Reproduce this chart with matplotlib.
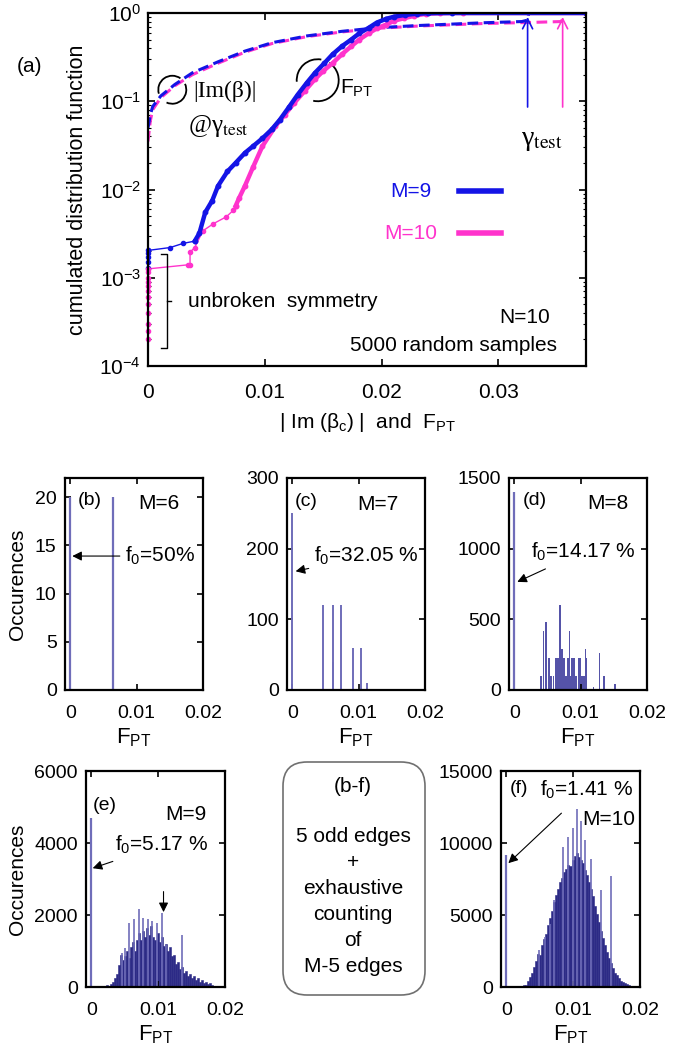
import matplotlib
matplotlib.use('Agg')
import matplotlib.pyplot as plt
from matplotlib.patches import Arc, FancyBboxPatch
import numpy as np

plt.rcParams['font.family'] = ['Liberation Sans', 'DejaVu Sans']
plt.rcParams['mathtext.fontset'] = 'custom'
plt.rcParams['mathtext.rm'] = 'Liberation Sans'
plt.rcParams['mathtext.it'] = 'Liberation Sans:italic'
plt.rcParams['mathtext.bf'] = 'Liberation Sans:bold'
plt.rcParams['font.size'] = 15

BLUE = '#1414e6'
PINK = '#ff33cc'
NAVY = '#2c2a86'
LIGHT = '#6f6db9'

# ---------------- (a) cumulated distribution functions ----------------
# F_PT, M=9 (solid)
m9_low_x = [0.0, 0.0019, 0.0030, 0.0040]
m9_low_y = [0.00204, 0.0022, 0.00245, 0.0026]
m9_x = [0.0040, 0.0044, 0.0049, 0.0055, 0.0060, 0.0068, 0.0075, 0.0083, 0.0090, 0.0098,
        0.0106, 0.0113, 0.0121, 0.0128, 0.0136, 0.0143, 0.0151, 0.0158, 0.0166, 0.0174,
        0.0181, 0.0189, 0.0196, 0.0204, 0.0211, 0.0220, 0.0230, 0.0240, 0.0260, 0.0375]
m9_y = [0.0026, 0.0032, 0.0055, 0.0075, 0.011, 0.016, 0.020, 0.026, 0.031, 0.038,
        0.048, 0.062, 0.087, 0.118, 0.162, 0.21, 0.27, 0.34, 0.42, 0.50,
        0.59, 0.68, 0.78, 0.86, 0.91, 0.95, 0.98, 0.995, 1.0, 1.0]
m9_zero_y = [0.0013, 0.0015, 0.0017, 0.0019, 0.00204]

# F_PT, M=10 (solid)
m10_low_x = [0.0, 0.0034, 0.0036, 0.0036, 0.0040, 0.0047, 0.0056, 0.0067, 0.0073, 0.0075]
m10_low_y = [0.00126, 0.0014, 0.0014, 0.00195, 0.0022, 0.0034, 0.0041, 0.0049, 0.0058, 0.0065]
m10_x = [0.0075, 0.0078, 0.0083, 0.0090, 0.0098, 0.0109, 0.0117, 0.0125, 0.0134, 0.0143,
         0.0150, 0.0158, 0.0166, 0.0174, 0.0181, 0.0189, 0.0196, 0.0204, 0.0211, 0.0219,
         0.0228, 0.0238, 0.0250, 0.0270, 0.0375]
m10_y = [0.0065, 0.008, 0.011, 0.018, 0.031, 0.052, 0.070, 0.095, 0.13, 0.178,
         0.22, 0.27, 0.34, 0.42, 0.50, 0.59, 0.67, 0.74, 0.82, 0.87,
         0.93, 0.98, 0.995, 1.0, 1.0]
m10_zero_y = [0.0002, 0.00025, 0.0003, 0.0004, 0.0005, 0.0006, 0.0007, 0.0008,
              0.0009, 0.001, 0.00115, 0.00126]

# |Im(beta)| at gamma_test (dashed)
m9_im_x = [0.0, 0.0002, 0.0004, 0.0011, 0.0023, 0.0038, 0.0060, 0.0083, 0.0106, 0.0136,
           0.0166, 0.0196, 0.0230, 0.0287, 0.0320, 0.0325, 0.0326, 0.0375]
m9_im_y = [0.05, 0.07, 0.087, 0.115, 0.155, 0.21, 0.28, 0.37, 0.46, 0.55,
           0.62, 0.68, 0.72, 0.775, 0.80, 0.83, 1.0, 1.0]
m10_im_x = [0.0, 0.0002, 0.0004, 0.0011, 0.0023, 0.0038, 0.0060, 0.0083, 0.0106, 0.0136,
            0.0166, 0.0196, 0.0230, 0.0287, 0.0325, 0.0354, 0.0356, 0.0375]
m10_im_y = [0.035, 0.06, 0.08, 0.11, 0.15, 0.20, 0.27, 0.36, 0.45, 0.54,
            0.61, 0.67, 0.71, 0.76, 0.78, 0.80, 1.0, 1.0]
gamma_test = [0.0325, 0.0355]

# ---------------- (b)-(f) histograms ----------------
b_x = [0.0, 0.0065]
b_counts = [20, 20]

c_x = [0.0, 0.0047, 0.0061, 0.0062, 0.0073, 0.0092, 0.0103, 0.0112]
c_counts = [250, 120, 120, 40, 120, 60, 60, 10]

d_x = [0.0040, 0.0044, 0.0048, 0.0052, 0.0055, 0.0059, 0.0063, 0.0065, 0.0067, 0.0069,
       0.0072, 0.0075, 0.0078, 0.0081, 0.0083, 0.0085, 0.0087, 0.0090, 0.0092, 0.0094,
       0.0097, 0.0099, 0.0101, 0.0103, 0.0105, 0.0107, 0.0109, 0.0119, 0.0128, 0.0135, 0.0152]
d_counts = [100, 420, 480, 227, 100, 100, 227, 227, 227, 600,
            290, 227, 100, 227, 420, 100, 227, 227, 100, 100,
            227, 227, 100, 100, 100, 290, 227, 20, 265, 100, 40]
d_zero = 1400

e_x = [0.0018, 0.0024, 0.0030, 0.0033, 0.0036, 0.0039, 0.0042, 0.0045, 0.0048, 0.0051,
       0.0054, 0.0057, 0.0060, 0.0063, 0.0066, 0.0069, 0.0072, 0.0075, 0.0078, 0.0081,
       0.0084, 0.0087, 0.0090, 0.0093, 0.0096, 0.0099, 0.0102, 0.0105, 0.0108, 0.0111,
       0.0114, 0.0117, 0.0120, 0.0123, 0.0126, 0.0129, 0.0132, 0.0135, 0.0138, 0.0141,
       0.0144, 0.0147, 0.0150, 0.0153, 0.0156, 0.0159, 0.0162, 0.0165, 0.0168, 0.0171,
       0.0174, 0.0177, 0.0180]
e_counts = [40, 60, 80, 150, 250, 350, 600, 900, 750, 850,
            1000, 800, 1100, 1250, 1000, 1300, 1500, 1300, 1550, 1400,
            1650, 1450, 1700, 1400, 1300, 1500, 1250, 1400, 1150, 1200,
            1000, 1100, 850, 900, 650, 700, 500, 550, 400, 450,
            300, 350, 250, 300, 200, 250, 150, 200, 100, 150,
            80, 100, 50]
e_spike_x = [0.00465, 0.0051, 0.0056, 0.0064, 0.0071, 0.0077, 0.0085, 0.0091, 0.0098, 0.0106, 0.0111, 0.0135]
e_spike_counts = [940, 1080, 1780, 1880, 2160, 1925, 1900, 1830, 1780, 2050, 1170, 1450]
e_zero = 4700
e_mark = 0.0108

f_x = [0.0006, 0.0009, 0.0012, 0.0015, 0.0018, 0.0021, 0.0024, 0.0027,
       0.0030, 0.0033, 0.0036, 0.0039, 0.0042, 0.0045, 0.0048, 0.0051, 0.0054, 0.0057,
       0.0060, 0.0063, 0.0066, 0.0069, 0.0072, 0.0075, 0.0078, 0.0081, 0.0084, 0.0087,
       0.0090, 0.0093, 0.0096, 0.0099, 0.0102, 0.0105, 0.0108, 0.0111, 0.0114, 0.0117,
       0.0120, 0.0123, 0.0126, 0.0129, 0.0132, 0.0135, 0.0138, 0.0141, 0.0144, 0.0147,
       0.0150, 0.0153, 0.0156, 0.0159, 0.0162, 0.0165, 0.0168, 0.0171, 0.0174, 0.0177,
       0.0180, 0.0183, 0.0186, 0.0189, 0.0192]
f_counts = [80, 60, 80, 60, 80, 60, 100, 120,
            150, 400, 700, 1000, 1400, 1800, 2300, 2200, 2900, 3300,
            3700, 4300, 4800, 5300, 5900, 6400, 6800, 7300, 7600, 8000,
            8200, 8500, 8400, 8800, 9100, 9300, 9000, 8800, 8600, 8100,
            7800, 7300, 6800, 6300, 5600, 5100, 4500, 3900, 3400, 2900,
            2400, 2000, 1700, 1300, 1000, 800, 600, 450, 350, 250,
            200, 150, 100, 80, 50]
f_spike_x = [0.0049, 0.0058, 0.0066, 0.0072, 0.0085, 0.0092, 0.0099, 0.0105, 0.0111, 0.0117, 0.0127, 0.0142, 0.0156]
f_spike_counts = [2550, 3500, 4400, 6050, 9700, 10450, 11050, 12370, 11500, 10200, 8900, 6750, 7700]
f_zero = 9200

W, H = 687, 1048
fig = plt.figure(figsize=(W / 100, H / 100), dpi=100)


def box(x0, y0, x1, y1):
    # pixel box (top-left origin) -> figure fraction
    return [x0 / W, 1 - y1 / H, (x1 - x0) / W, (y1 - y0) / H]


# ---------------- top panel ----------------
ax = fig.add_axes(box(148, 13, 586, 366))
ax.set_yscale('log')
ax.set_xlim(0, 0.0375)
ax.set_ylim(1e-4, 1)

ax.plot(m10_im_x, m10_im_y, color=PINK, lw=2.2, ls=(0, (3.5, 1.8)))
ax.plot(m9_im_x, m9_im_y, color=BLUE, lw=2.2, ls=(0, (3.5, 1.8)))

ax.plot(m9_low_x, m9_low_y, color=BLUE, lw=1, marker='o', ms=3)
ax.plot(m10_low_x, m10_low_y, color=PINK, lw=1, marker='o', ms=3)
ax.plot(m10_x, m10_y, color=PINK, lw=3.2, marker='o', ms=3.2)
ax.plot(m9_x, m9_y, color=BLUE, lw=3.2, marker='o', ms=3.2)
ax.plot(np.zeros(len(m9_zero_y)), m9_zero_y, 'o', color=BLUE, ms=3, clip_on=False)
ax.plot(np.zeros(len(m10_zero_y)), m10_zero_y, 'o', color=PINK, ms=3, clip_on=False)

for g, c in zip(gamma_test, [BLUE, PINK]):
    ax.annotate('', xy=(g, 0.97), xytext=(g, 0.08),
                arrowprops=dict(arrowstyle='->', color=c, lw=1.2, mutation_scale=18))

ax.set_xticks([0, 0.01, 0.02, 0.03])
ax.set_xticklabels(['0', '0.01', '0.02', '0.03'])
ax.set_yticks([1e-4, 1e-3, 1e-2, 1e-1, 1])
ax.set_yticklabels(['$10^{-4}$', '$10^{-3}$', '$10^{-2}$', '$10^{-1}$', '$10^{0}$'])
ax.tick_params(which='both', direction='in', top=True, right=True, labelsize=15)
ax.tick_params(which='major', length=5, width=1.2)
ax.tick_params(which='minor', length=2.5, width=0.8)
ax.tick_params(axis='x', pad=12)
ax.tick_params(axis='y', pad=5)
for s in ax.spines.values():
    s.set_linewidth(1.6)
ax.set_xlabel(r'| Im ($\mathregular{\beta_c}$) |  and  F$_{\rm PT}$', fontsize=15, labelpad=7)
fig.text(78 / W, 1 - 190 / H, 'cumulated distribution function', rotation=90,
         ha='center', va='center', fontsize=15.5)
fig.text(30 / W, 1 - 67 / H, '(a)', ha='center', va='center', fontsize=15)

# annotations in panel (a)
ax.text(0.0164, 0.14, r'F$_{\rm PT}$', fontsize=15, va='center')
ax.text(0.0039, 0.13, '|Im(β)|', fontsize=17, va='center', family='Liberation Serif')
ax.text(0.0034, 0.052, r'@γ$_{\rm test}$', fontsize=18, va='center',
        family='Liberation Serif', math_fontfamily='stix')
ax.text(0.0337, 0.036, r'γ$_{\rm test}$', fontsize=20, ha='center', va='center',
        family='Liberation Serif', math_fontfamily='stix')

ax_w, ax_h = 586 - 148, 366 - 13
for (cx, cy, r, arcs) in [(0.01453, 0.173, 21, [(-100, 62), (82, 185)]),
                          (0.00208, 0.135, 14, [(-110, 30), (60, 200)])]:
    xa = cx / 0.0375
    ya = (np.log10(cy) + 4) / 4
    for t1, t2 in arcs:
        ax.add_patch(Arc((xa, ya), 2 * r / ax_w, 2 * r / ax_h, theta1=t1, theta2=t2,
                         transform=ax.transAxes, color='k', lw=1.3))

ax.text(0.0243, 0.0095, 'M=9', color=BLUE, ha='right', va='center', fontsize=15)
ax.text(0.0248, 0.0032, 'M=10', color=PINK, ha='right', va='center', fontsize=15)
ax.plot([0.0266, 0.0302], [0.0095, 0.0095], color=BLUE, lw=4)
ax.plot([0.0266, 0.0302], [0.0032, 0.0032], color=PINK, lw=4)

ax.plot([0.0011, 0.0016, 0.0016, 0.0011], [0.00186, 0.00186, 0.00016, 0.00016], color='k', lw=1)
ax.plot([0.0016, 0.0020], [0.00054, 0.00054], color='k', lw=1)
ax.text(0.0034, 0.00054, 'unbroken  symmetry', fontsize=15, va='center')
ax.text(0.0344, 0.00035, 'N=10', fontsize=15, ha='right', va='center')
ax.text(0.0350, 0.000172, '5000 random samples', fontsize=15, ha='right', va='center')


# ---------------- histograms ----------------
def style_hist(a, ymax, yticks, xmax=0.02):
    a.set_xlim(-0.0008, xmax)
    a.set_ylim(0, ymax)
    a.set_xticks([0, 0.01, 0.02])
    a.set_xticklabels(['0', '0.01', '0.02'])
    a.set_yticks(yticks)
    a.tick_params(direction='in', top=True, right=True, length=4, width=1.2, labelsize=14)
    a.tick_params(axis='x', pad=11)
    a.tick_params(axis='y', pad=6)
    for s in a.spines.values():
        s.set_linewidth(1.6)
    a.set_xlabel(r'F$_{\rm PT}$', fontsize=16, labelpad=3)


# (b)
axb = fig.add_axes(box(65, 478, 203, 690))
axb.vlines(b_x, 0, b_counts, color=LIGHT, lw=1.6)
style_hist(axb, 22, [0, 5, 10, 15, 20])
axb.text(0.094, 0.896, '(b)', transform=axb.transAxes, fontsize=14, va='center')
axb.text(0.53, 0.88, 'M=6', transform=axb.transAxes, fontsize=15, va='center')
axb.annotate(r'f$_0$=50%', xy=(0.0003, 13.9), xytext=(0.0083, 13.9), fontsize=15,
             va='center', arrowprops=dict(arrowstyle='-|>', color='k', lw=0.8,
                                          mutation_scale=14, shrinkA=2, shrinkB=0))

# (c)
axc = fig.add_axes(box(287, 478, 425, 690))
axc.vlines(c_x, 0, c_counts, color=LIGHT, lw=1.4)
style_hist(axc, 300, [0, 100, 200, 300])
axc.text(0.058, 0.887, '(c)', transform=axc.transAxes, fontsize=14, va='center')
axc.text(0.507, 0.873, 'M=7', transform=axc.transAxes, fontsize=15, va='center')
axc.annotate(r'f$_0$=32.05 %', xy=(0.0005, 168), xytext=(0.0033, 190), fontsize=15,
             va='center', arrowprops=dict(arrowstyle='-|>', color='k', lw=0.8,
                                          mutation_scale=14, shrinkA=2, shrinkB=0))

# (d)
axd = fig.add_axes(box(509, 478, 647, 690))
axd.vlines([0.0], 0, [d_zero], color=LIGHT, lw=1.6)
axd.bar(d_x, d_counts, width=0.00022, color='#5553a8', lw=0)
style_hist(axd, 1500, [0, 500, 1000, 1500])
axd.text(0.10, 0.896, '(d)', transform=axd.transAxes, fontsize=14, va='center')
axd.text(0.57, 0.88, 'M=8', transform=axd.transAxes, fontsize=15, va='center')
axd.annotate(r'f$_0$=14.17 %', xy=(0.00045, 765), xytext=(0.0025, 980), fontsize=15,
             va='center', arrowprops=dict(arrowstyle='-|>', color='k', lw=0.8,
                                          mutation_scale=14, shrinkA=6, shrinkB=0))

# (e)
axe = fig.add_axes(box(86, 771, 225, 987))
axe.vlines([0.0], 0, [e_zero], color=LIGHT, lw=1.6)
axe.bar(e_x, e_counts, width=0.0003, color=NAVY, edgecolor=NAVY, lw=0.4)
axe.vlines(e_spike_x, 0, e_spike_counts, color=LIGHT, lw=1.2)
style_hist(axe, 6000, [0, 2000, 4000, 6000], xmax=0.0186)
axe.text(0.05, 0.84, '(e)', transform=axe.transAxes, fontsize=14, va='center')
axe.text(0.57, 0.80, 'M=9', transform=axe.transAxes, fontsize=15, va='center')
axe.annotate(r'f$_0$=5.17 %', xy=(0.0002, 3300), xytext=(0.0036, 3950), fontsize=15,
             va='center', arrowprops=dict(arrowstyle='-|>', color='k', lw=0.8,
                                          mutation_scale=14, shrinkA=6, shrinkB=0))
axe.annotate('', xy=(e_mark, 2080), xytext=(e_mark, 2650),
             arrowprops=dict(arrowstyle='-|>', color='k', lw=0.8, mutation_scale=14,
                             shrinkA=0, shrinkB=0))

# (f)
axf = fig.add_axes(box(501, 771, 640, 987))
axf.vlines([0.0], 0, [f_zero], color=LIGHT, lw=1.6)
axf.bar(f_x, f_counts, width=0.0003, color=NAVY, edgecolor=NAVY, lw=0.4)
axf.vlines(f_spike_x, 0, f_spike_counts, color=LIGHT, lw=1.2)
style_hist(axf, 15000, [0, 5000, 10000, 15000], xmax=0.0196)
axf.text(0.065, 0.92, '(f)', transform=axf.transAxes, fontsize=14, va='center')
axf.text(0.964, 0.775, 'M=10', transform=axf.transAxes, fontsize=15, ha='right', va='center')
axf.annotate(r'f$_0$=1.41 %', xy=(0.0003, 8600), xytext=(0.0050, 13700), fontsize=15,
             va='center', arrowprops=dict(arrowstyle='-|>', color='k', lw=0.8,
                                          mutation_scale=14, shrinkA=10, shrinkB=0))

fig.text(18 / W, 1 - 584 / H, 'Occurences', rotation=90, ha='center', va='center', fontsize=15)
fig.text(18 / W, 1 - 879 / H, 'Occurences', rotation=90, ha='center', va='center', fontsize=15)

# summary box
fig.patches.append(FancyBboxPatch((283 / W, 1 - 995 / H), 142 / W, 233 / H,
                                  boxstyle='round,pad=0,rounding_size=0.035',
                                  mutation_aspect=W / H, transform=fig.transFigure,
                                  fc='white', ec='#707070', lw=1.2))
for txt, yp in [('(b-f)', 787), ('5 odd edges', 837), ('+', 863), ('exhaustive', 888),
                ('counting', 915), ('of', 940), ('M-5 edges', 967)]:
    fig.text(353 / W, 1 - yp / H, txt, ha='center', va='center', fontsize=15)

fig.savefig('out.png', dpi=100)
